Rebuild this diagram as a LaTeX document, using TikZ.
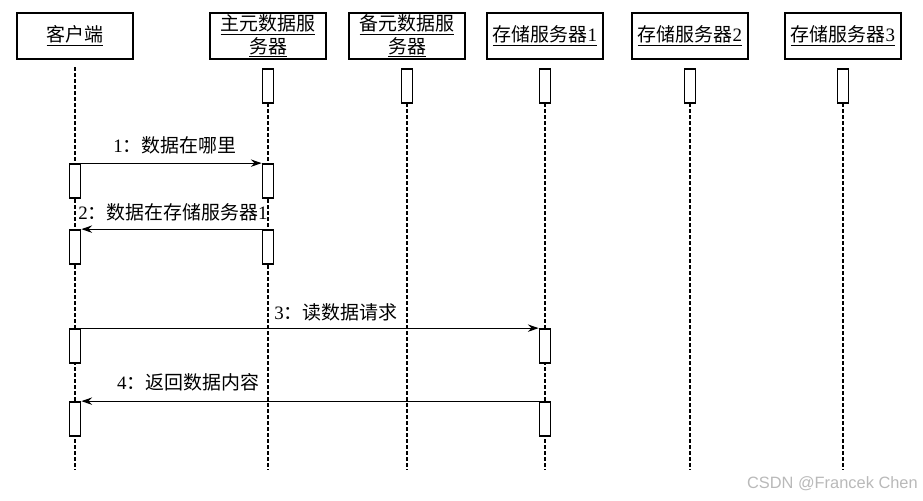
\documentclass[tikz,border=0pt]{standalone}
\usepackage{fontspec}
\setmainfont{Liberation Serif}
\newfontfamily\cjk{Noto Sans CJK SC}
\newfontfamily\marksans{Liberation Sans}
\usetikzlibrary{arrows.meta}

\tikzset{
  head/.style={draw, line width=1.5pt, minimum width=87pt, minimum height=35pt,
    align=center, inner sep=1pt, font=\fontsize{14.2}{17}\selectfont},
  act/.style={draw, fill=white, line width=1.3pt, minimum width=8.25pt,
    minimum height=25.5pt, inner sep=0pt},
  life/.style={line width=1.4pt, dash pattern=on 3pt off 1.5pt},
  msg/.style={line width=0.9pt, -{Stealth[length=8pt, width=5.5pt]}},
  lbl/.style={font=\fontsize{14.2}{17}\selectfont, inner sep=0pt}
}

\begin{document}
\begin{tikzpicture}[x=0.75pt, y=-0.75pt]
  \useasboundingbox (0,0) rectangle (923,500);
  % Headers
  \node[head] (client) at (75,36) {\underline{\cjk 客户端}};
  \node[head] (mds) at (268,36) {\underline{\cjk 主元数据服}\\\underline{\cjk 务器}};
  \node[head] (bmds) at (407,36) {\underline{\cjk 备元数据服}\\\underline{\cjk 务器}};
  \node[head] (ds1) at (545,36) {\underline{{\cjk 存储服务器}1}};
  \node[head] (ds2) at (690,36) {\underline{{\cjk 存储服务器}2}};
  \node[head] (ds3) at (843,36) {\underline{{\cjk 存储服务器}3}};
  % Lifelines
  \draw[life] (75,67) -- (75,470);
  \foreach \x/\n in {268/mds, 407/bmds, 545/ds1, 690/ds2, 843/ds3} {
    \draw[life] (\x,103) -- (\x,470);
    \node[act] (top-\n) at (\x,86) {};
  }
  % Activation boxes
  \node[act] (c1) at (75,181) {};
  \node[act] (m1) at (268,181) {};
  \node[act] (c2) at (75,247) {};
  \node[act] (m2) at (268,247) {};
  \node[act] (c3) at (75,346) {};
  \node[act] (s3) at (545,346) {};
  \node[act] (c4) at (75,419) {};
  \node[act] (s4) at (545,419) {};
  % Messages
  \draw[msg] (c1.north east) -- (m1.north west);
  \node[lbl] (l1) at (175,145) {1{\cjk ：数据在哪里}};
  \draw[msg] (m2.north west) -- (c2.north east);
  \node[lbl] (l2) at (173,212) {2{\cjk ：数据在存储服务器}1};
  \draw[msg] (c3.north east) -- (s3.north west);
  \node[lbl] (l3) at (336,312) {3{\cjk ：读数据请求}};
  \draw[msg] (s4.north west) -- (c4.north east);
  \node[lbl] (l4) at (188,382) {4{\cjk ：返回数据内容}};
  % Watermark
  \node[font=\marksans\fontsize{12.3}{14}\selectfont, text=gray!55, anchor=east, inner sep=0pt]
    (mark) at (918,484) {CSDN @Francek Chen};
\end{tikzpicture}
\end{document}
